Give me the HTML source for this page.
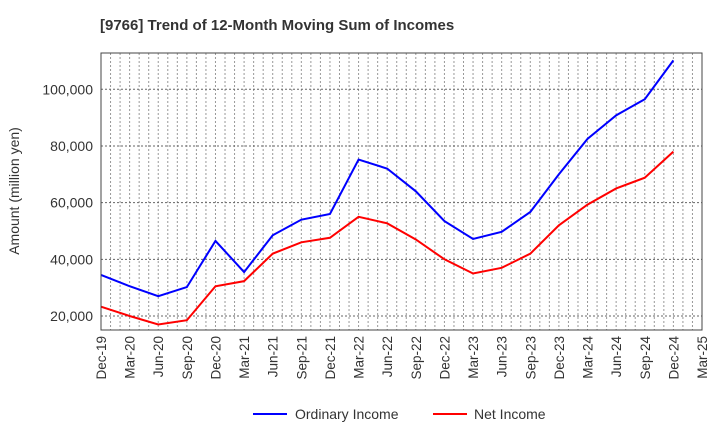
<!DOCTYPE html>
<html><head><meta charset="utf-8"><style>
body{margin:0;background:#fff;font-family:"Liberation Sans",sans-serif;}
svg text{font-family:"Liberation Sans",sans-serif;}
</style></head><body>
<svg width="720" height="440" id="c">
<text x="100" y="30" font-size="15" font-weight="bold" fill="#333">[9766]  Trend of 12-Month Moving Sum of Incomes</text>
<text transform="translate(19,191) rotate(-90)" text-anchor="middle" font-size="14" fill="#333">Amount (million yen)</text>
<g id="grid"></g><g id="series"></g><g id="axes"></g>
<g>
<line x1="253" y1="414" x2="287" y2="414" stroke="#0000ff" stroke-width="2"/>
<text x="295" y="419" font-size="14" fill="#333">Ordinary Income</text>
<line x1="433" y1="414" x2="467" y2="414" stroke="#ff0000" stroke-width="2"/>
<text x="474" y="419" font-size="14" fill="#333">Net Income</text>
</g>
</svg>
<script>
const categories=["Dec-19","Mar-20","Jun-20","Sep-20","Dec-20","Mar-21","Jun-21","Sep-21","Dec-21","Mar-22","Jun-22","Sep-22","Dec-22","Mar-23","Jun-23","Sep-23","Dec-23","Mar-24","Jun-24","Sep-24","Dec-24","Mar-25"];
const ordinaryIncome=[34500,30500,27000,30200,46500,35500,48500,54000,56000,75200,72000,64000,53500,47200,49700,56700,70000,82500,90800,96500,110200];
const netIncome=[23300,20000,17000,18500,30500,32300,42000,46000,47600,55000,52700,47000,40000,35000,37000,42000,52000,59300,65000,68800,78000];
const yTicks=[20000,40000,60000,80000,100000];
const L=101,R=702,T=53,B=330,yMin=15060,yMax=112800;
const ns="http://www.w3.org/2000/svg";
const xs=i=>L+(R-L)*i/(categories.length-1);
const ys=v=>B-(B-T)*(v-yMin)/(yMax-yMin);
function mk(tag,attrs,parent){const e=document.createElementNS(ns,tag);for(const k in attrs)e.setAttribute(k,attrs[k]);parent.appendChild(e);return e;}
const grid=document.getElementById('grid'),axes=document.getElementById('axes'),series=document.getElementById('series');
const n=(categories.length-1)*3;
for(let m=1;m<n;m++){const x=L+(R-L)*m/n;
const g=mk('line',{x1:x,x2:x,y1:T,y2:B,stroke:'#999','stroke-width':1,'stroke-dasharray':'2,2'},grid);

}
yTicks.forEach(v=>{const y=ys(v);
const g=mk('line',{x1:L,x2:R,y1:y,y2:y,stroke:'#666','stroke-width':1,'stroke-dasharray':'2,2'},grid);


const t=mk('text',{x:L-8,y:y+5,'text-anchor':'end','font-size':14,fill:'#333'},axes);
t.textContent=v.toLocaleString('en-US');

});
categories.forEach((c,i)=>{const x=xs(i);
const t=mk('text',{transform:`translate(${x+5},${B+6}) rotate(-90)`,'text-anchor':'end','font-size':13.5,fill:'#333'},axes);
t.textContent=c;

});
const fr=mk('rect',{x:L,y:T,width:R-L,height:B-T,fill:'none',stroke:'#444','stroke-width':1},axes);


function line(vals,color,name){const p=mk('polyline',{points:vals.map((v,i)=>xs(i)+','+ys(v)).join(' '),fill:'none',stroke:color,'stroke-width':2},series);

}
line(ordinaryIncome,'#0000ff','ordinary-income-line');
line(netIncome,'#ff0000','net-income-line');
</script>
</body></html>
